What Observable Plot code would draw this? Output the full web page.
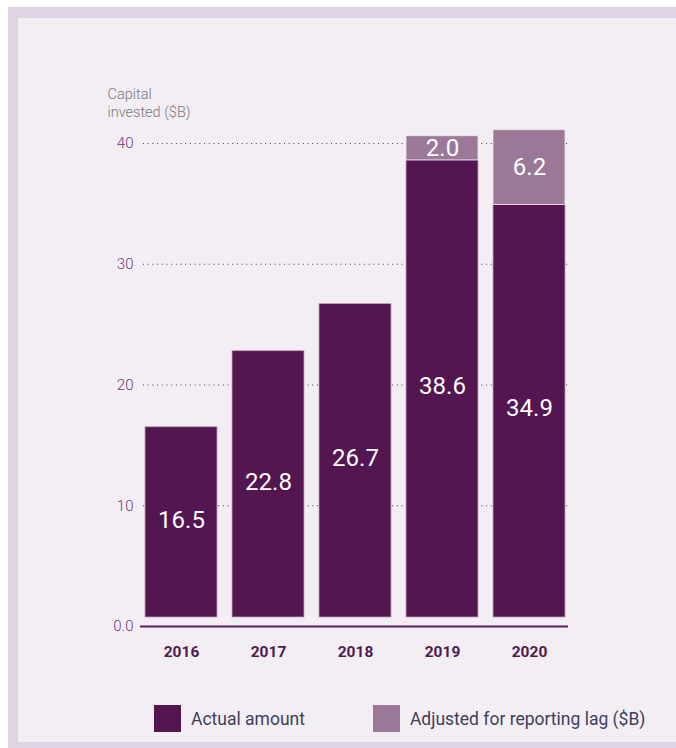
<!DOCTYPE html>
<html><head><meta charset="utf-8">
<script src="https://cdn.jsdelivr.net/npm/d3@7"></script>
<script src="https://cdn.jsdelivr.net/npm/@observablehq/plot@0.6"></script>
<style>
body{margin:0;background:#fff;font-family:Roboto,sans-serif;}
#frame{position:absolute;left:8px;top:7px;width:668px;height:741px;background:#ded4e3;}
#inner{position:absolute;left:10px;top:11px;width:658px;height:724px;background:#f3eef4;overflow:hidden;}
#chart{position:absolute;left:0;top:42px;}
#legend{position:absolute;top:687px;left:136px;display:flex;align-items:center;font-size:17.5px;color:#3d3f5a;}
.item{display:flex;align-items:center;}
.sw{width:27px;height:27px;margin-right:10px;}
</style></head>
<body>
<div id="frame"><div id="inner"><div id="chart"></div><div id="legend"></div></div></div>
<script>
const years = ["2016", "2017", "2018", "2019", "2020"];
const actual = [16.5, 22.8, 26.7, 38.6, 34.9];
const lag = [null, null, null, 2.0, 6.2];
const yTicks = [0, 10, 20, 30, 40];
const seriesNames = ["Actual amount", "Adjusted for reporting lag ($B)"];
const colors = ["#541650", "#9b7898"];
const yLabel = "Capital\ninvested ($B)";

const actualRows = years.map((year, i) => ({year, value: actual[i]}));
const lagRows = years.map((year, i) => ({year, base: actual[i], value: lag[i]})).filter(d => d.value != null);

const chart = Plot.plot({
  width: 658, height: 620,
  marginLeft: 125, marginRight: 109, marginTop: 83, marginBottom: 54,
  style: {background: "transparent", fontFamily: "Roboto, sans-serif"},
  x: {domain: years, paddingInner: 0.17, paddingOuter: 0, label: null},
  y: {domain: [0, 40], label: null},
  marks: [
    Plot.ruleY(yTicks.filter(d => d > 0), {stroke: "#444", strokeDasharray: "1 3.7", strokeWidth: 1}),
    Plot.barY(actualRows, {x: "year", y: "value", fill: colors[0], insetBottom: 9, stroke: "#b99fb8", strokeWidth: 0.8}),
    Plot.barY(lagRows, {x: "year", y1: "base", y2: d => d.base + d.value, fill: colors[1], stroke: "#efe6ef", strokeWidth: 0.8}),
    Plot.text(actualRows, {x: "year", y: d => d.value / 2, text: d => d.value.toFixed(1), fill: "white", fontSize: 24, dy: -7}),
    Plot.text(lagRows, {x: "year", y: d => d.base + d.value / 2, text: d => d.value.toFixed(1), fill: "white", fontSize: 24}),
    Plot.ruleY([0], {stroke: "#5a1d5a", strokeWidth: 2, insetLeft: -3, insetRight: -1}),
    Plot.axisY({ticks: yTicks, tickSize: 0, tickPadding: 10, tickFormat: d => d === 0 ? "0.0" : String(d), fontSize: 15, fontWeight: 300, fill: "#6e3b7a", label: null}),
    Plot.axisX({tickSize: 0, tickPadding: 19, fontSize: 15.5, fontWeight: "bold", fill: "#4f1a4f", label: null}),
    Plot.text([yLabel], {frameAnchor: "top-left", dx: -36, dy: -57, lineAnchor: "top", textAnchor: "start", fill: "#777", fontSize: 14.5, lineHeight: 1.25, fontWeight: 300})
  ]
});
document.getElementById("chart").appendChild(chart);

const legend = document.getElementById("legend");
seriesNames.forEach((name, i) => {
  const item = document.createElement("div");
  item.className = "item";
  if (i === 0) item.style.marginRight = "68px";
  const sw = document.createElement("div");
  sw.className = "sw";
  sw.style.background = colors[i];
  const t = document.createElement("span");
  t.textContent = name;
  item.appendChild(sw); item.appendChild(t);
  legend.appendChild(item);
});
</script>
</body></html>
